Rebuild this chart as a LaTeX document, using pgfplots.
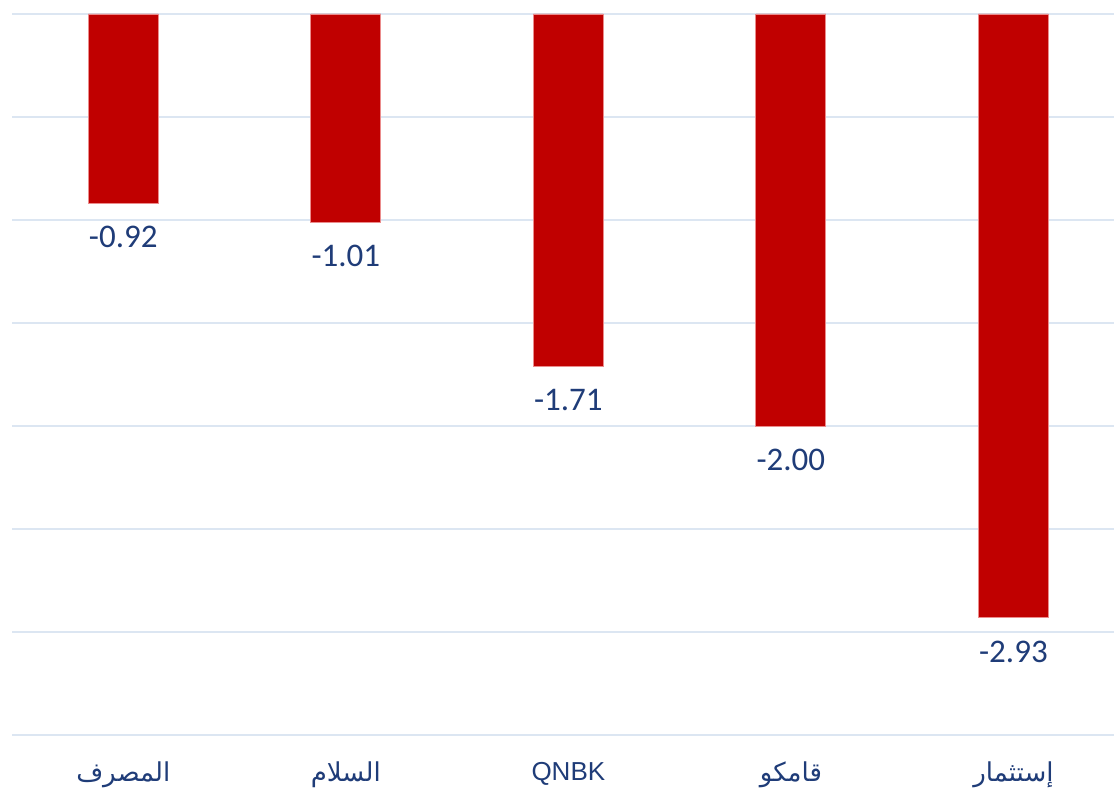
\documentclass[border=0pt]{standalone}
\usepackage{fontspec}
\usepackage{pgfplots}
\pgfplotsset{compat=1.18}
\setmainfont{Carlito}
\newfontfamily\arabicfont[Script=Arabic]{DejaVu Sans}
\newfontfamily\arialfont{Liberation Sans}
\TeXXeTstate=1
\definecolor{barred}{HTML}{C00000}
\definecolor{navy}{HTML}{1F3C78}
\definecolor{gridblue}{HTML}{DCE6F2}
\definecolor{gridgray}{HTML}{C8C8C8}
\begin{document}
\begin{tikzpicture}
\useasboundingbox (-6pt,-28.5pt) rectangle (551pt,367.5pt);
\begin{axis}[
  at={(0,0)}, anchor=south west,
  scale only axis,
  width=551pt, height=360.5pt,
  xmin=-0.5, xmax=4.452,
  ymin=-3.5, ymax=0,
  axis line style={draw=none},
  clip=false,
  /pgf/number format/assume math mode=true,
  ytick={-3.5,-3,-2.5,-2,-1.5,-1,-0.5},
  yticklabels={},
  ymajorgrids,
  major grid style={gridblue, line width=0.8pt},
  extra y ticks={0},
  extra y tick labels={},
  extra y tick style={grid style={gridgray, line width=1.2pt}},
  xtick=data,
  xticklabels={{\arabicfont\beginR المصرف\endR},{\arabicfont\beginR السلام\endR},{\arialfont QNBK},{\arabicfont\beginR قامكو\endR},{\arabicfont\beginR إستثمار\endR}},
  x tick label style={font=\fontsize{13}{15}\selectfont, text=navy, yshift=-10pt},
  major tick length=0pt,
  ybar, bar width=35pt, bar shift=0pt,
  nodes near coords,
  every node near coord/.append style={font=\fontsize{16.5}{19}\selectfont, text=navy, anchor=north, yshift=-8pt},
  nodes near coords={\pgfmathprintnumber[fixed,fixed zerofill,precision=2,assume math mode=true]{\pgfplotspointmeta}},
]
\addplot[fill=barred, draw={rgb,255:red,235;green,140;blue,140}, line width=0.4pt] coordinates {
  (0,-0.92) (1,-1.01) (2,-1.71) (3,-2.00) (4,-2.93)
};
\end{axis}
\end{tikzpicture}
\end{document}
